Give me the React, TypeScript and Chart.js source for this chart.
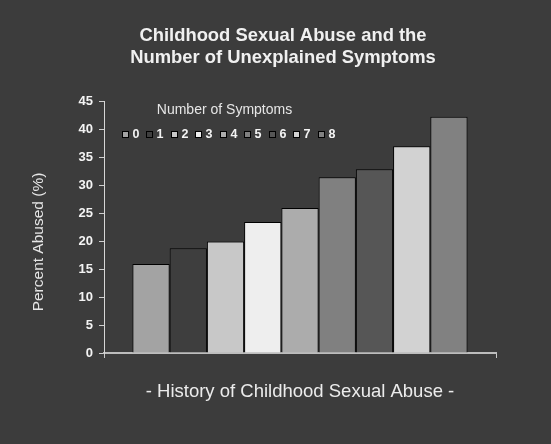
import { useEffect, useRef } from "react";
import { Chart, registerables } from "chart.js";

Chart.register(...registerables);

// Chart data
const chartTitle = ["Childhood Sexual Abuse and the", "Number of Unexplained Symptoms"];
const categories = ["History of Childhood Sexual Abuse"];
const xAxisTitle = "- History of Childhood Sexual Abuse -";
const yAxisTitle = "Percent Abused (%)";
const legendTitle = "Number of Symptoms";
const symptomCounts = ["0", "1", "2", "3", "4", "5", "6", "7", "8"];
const percentAbused = [15.9, 18.7, 19.9, 23.4, 25.9, 31.4, 32.8, 36.9, 42.2];
const barColors = [
  "#a3a3a3",
  "#3e3e3e",
  "#c8c8c8",
  "#eeeeee",
  "#acacac",
  "#808080",
  "#565656",
  "#d2d2d2",
  "#818181",
];
const yTicks = [0, 5, 10, 15, 20, 25, 30, 35, 40, 45];

const FONT = "'Liberation Sans', Arial, Helvetica, sans-serif";
const BG = "#3c3c3c";

// Paints the dark backdrop behind everything
const backdrop = {
  id: "backdrop",
  beforeDraw(chart: any) {
    const { ctx, width, height } = chart;
    ctx.save();
    ctx.fillStyle = BG;
    ctx.fillRect(0, 0, width, height);
    ctx.restore();
  },
};

// Rotated caption for the value axis
const yCaption = {
  id: "yCaption",
  afterDraw(chart: any) {
    const { ctx } = chart;
    ctx.save();
    ctx.translate(39, 242);
    ctx.rotate(-Math.PI / 2);
    ctx.font = `15.5px ${FONT}`;
    ctx.fillStyle = "#e6e6e6";
    ctx.textAlign = "center";
    ctx.textBaseline = "middle";
    ctx.fillText(yAxisTitle, 0, 0);
    ctx.restore();
  },
};

// Inline legend inside the plot area, one swatch per dataset
const symptomLegend = {
  id: "symptomLegend",
  afterDraw(chart: any) {
    const { ctx, chartArea } = chart;
    const x0 = chartArea.left + 18;
    const pitch = 24.45;
    const boxSize = 7;
    const rowY = chartArea.top + 33;
    ctx.save();
    ctx.font = `14px ${FONT}`;
    ctx.fillStyle = "#e6e6e6";
    ctx.textAlign = "center";
    ctx.textBaseline = "middle";
    ctx.fillText(legendTitle, chartArea.left + 120.5, chartArea.top + 9);

    ctx.font = `bold 12.5px ${FONT}`;
    ctx.textAlign = "left";
    chart.data.datasets.forEach((ds: any, i: number) => {
      const bx = Math.round(x0 + i * pitch);
      const by = Math.round(rowY - boxSize / 2);
      ctx.fillStyle = ds.backgroundColor;
      ctx.fillRect(bx, by, boxSize, boxSize);
      ctx.strokeStyle = "#000000";
      ctx.lineWidth = 1;
      ctx.strokeRect(bx + 0.5, by + 0.5, boxSize - 1, boxSize - 1);
      ctx.fillStyle = "#f4f4f4";
      ctx.fillText(ds.label, bx + boxSize + 3.5, rowY + 0.5);
    });
    ctx.restore();
  },
};

export default function App() {
  const canvasRef = useRef<HTMLCanvasElement | null>(null);

  useEffect(() => {
    document.body.style.margin = "0";
    document.body.style.background = BG;
    const canvas = canvasRef.current;
    if (!canvas) return;

    const chart = new Chart(canvas, {
      type: "bar",
      data: {
        labels: categories,
        datasets: symptomCounts.map((label, i) => ({
          label,
          data: [percentAbused[i]],
          backgroundColor: barColors[i],
          borderColor: "#000000",
          borderWidth: 1,
          categoryPercentage: 0.855,
          barPercentage: 1,
        })),
      },
      options: {
        responsive: false,
        animation: false,
        events: [],
        layout: { padding: { left: 70, right: 55, top: 0, bottom: 0 } },
        plugins: {
          legend: { display: false },
          tooltip: { enabled: false },
          title: {
            display: true,
            text: chartTitle,
            color: "#f0f0f0",
            font: { family: FONT, size: 18.4, weight: "bold", lineHeight: 22 / 18.4 },
            padding: { top: 25, bottom: 32 },
          },
        },
        scales: {
          x: {
            type: "category",
            offset: true,
            afterFit(scale: any) {
              scale.height = 91;
            },
            ticks: { display: false },
            grid: {
              display: true,
              offset: true,
              drawOnChartArea: false,
              drawTicks: true,
              tickLength: 5,
              color: "#c8c8c8",
            },
            border: { display: true, color: "#bdbdbd", width: 2 },
            title: {
              display: true,
              text: xAxisTitle,
              color: "#ececec",
              font: { family: FONT, size: 18.5 },
              padding: { top: 0, bottom: 41 },
            },
          },
          y: {
            min: 0,
            max: 45,
            afterFit(scale: any) {
              scale.width = 34;
            },
            afterBuildTicks(scale: any) {
              scale.ticks = yTicks.map((v) => ({ value: v }));
            },
            ticks: {
              color: "#f4f4f4",
              font: { family: FONT, size: 13, weight: "bold" },
              padding: 6,
            },
            grid: {
              drawOnChartArea: false,
              drawTicks: true,
              tickLength: 5,
              color: "#cfcfcf",
            },
            border: { display: true, color: "#d6d6d6", width: 1 },
          },
        },
      },
      plugins: [backdrop, yCaption, symptomLegend],
    });

    return () => chart.destroy();
  }, []);

  return (
    <div style={{ width: 551, height: 444, background: BG }}>
      <canvas ref={canvasRef} width={551} height={444} style={{ display: "block" }} />
    </div>
  );
}
